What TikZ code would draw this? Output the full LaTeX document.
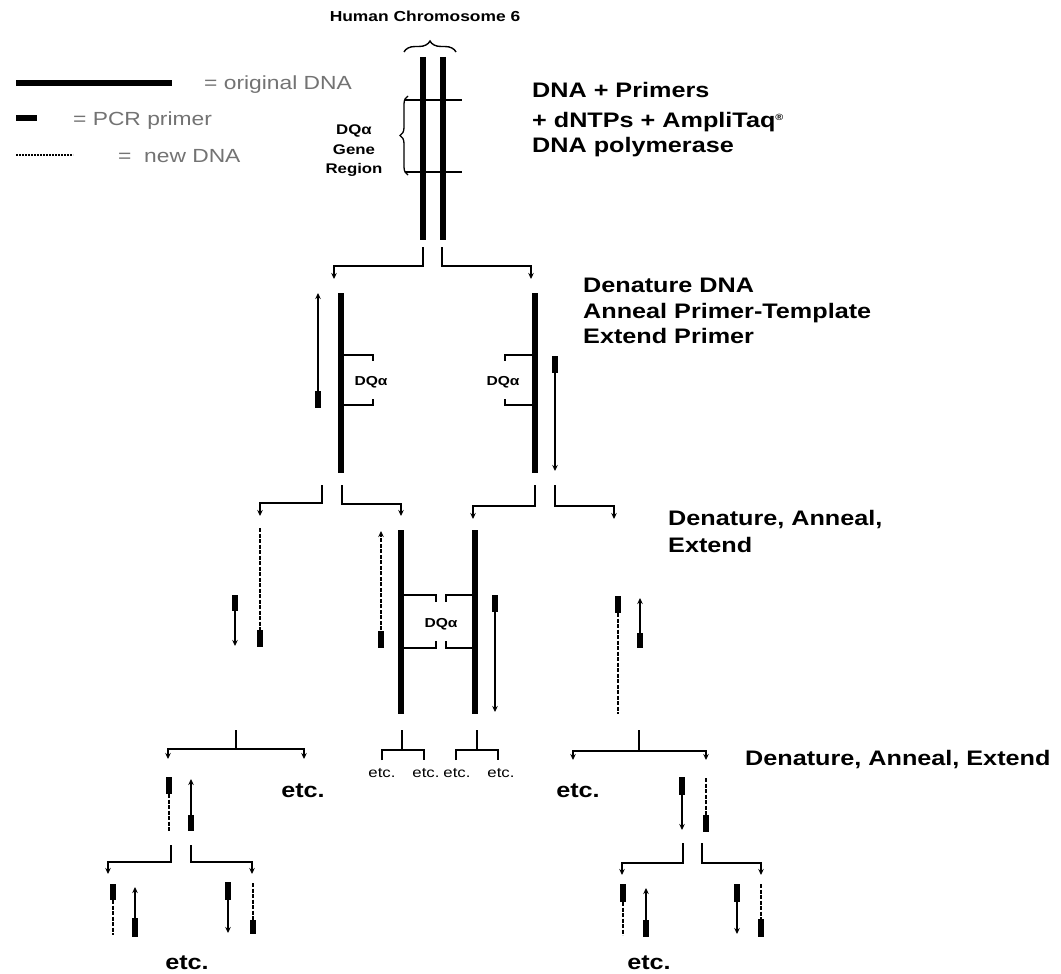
\documentclass[tikz,border=0pt]{standalone}
\usepackage{fontspec}
\setmainfont{Liberation Sans}[FakeStretch=1.2]
\usetikzlibrary{arrows.meta,decorations.pathreplacing}
\begin{document}
\begin{tikzpicture}[x=1pt,y=-1pt,
  orig/.style={line width=5.5pt},
  primer/.style={line width=6pt},
  newdna/.style={line width=1.2pt,dash pattern=on 4pt off 1.5pt},
  ext/.style={line width=1.1pt},
  conn/.style={line width=1.5pt},
  brk/.style={line width=1.6pt},
  arr/.style={-{Stealth[length=6pt,width=5.5pt]}},
  arrb/.style={{Stealth[length=6pt,width=5.5pt]}-{Stealth[length=6pt,width=5.5pt]}},
  lvl/.style={font=\fontsize{21}{25}\selectfont\bfseries,inner sep=0pt,anchor=base west},
  lab/.style={font=\fontsize{14}{16}\selectfont\bfseries,inner sep=0pt,anchor=base},
  dq/.style={font=\fontsize{13}{15}\selectfont\bfseries,inner sep=0pt},
  setc/.style={font=\fontsize{14}{16}\selectfont,inner sep=0pt,anchor=base},
  betc/.style={font=\fontsize{21}{25}\selectfont\bfseries,inner sep=0pt,anchor=base},
  leg/.style={font=\fontsize{19}{22}\selectfont,text=black!55,inner sep=0pt,anchor=base west}]
\useasboundingbox (0,0) rectangle (1061,974);
\fill[white] (0,0) rectangle (1061,974);

% ---------- legend ----------
\draw[orig] (16,83) -- (172,83);
\node[leg] (l1) at (204,90) {= original DNA};
\draw[primer] (16,118) -- (37,118);
\node[leg] (l2) at (73,125) {= PCR primer};
\draw[line width=1.1pt,dash pattern=on 2pt off 1pt] (16,155) -- (73,155);
\node[leg] (l3) at (118,162) {=\ \ new DNA};

% ---------- level 1 ----------
\node[lab,font=\fontsize{14.5}{16}\selectfont\bfseries] (hc) at (425,22) {Human Chromosome 6};
\draw[line width=1.4pt,decorate,decoration={brace,amplitude=11pt,aspect=0.5}] (404,52) -- (456,52);
\draw[orig] (423,57) -- (423,240);
\draw[orig] (443,57) -- (443,240);
\draw[brk] (405,100) -- (462,100);
\draw[brk] (405,172) -- (462,172);
\draw[line width=1.3pt,decorate,decoration={brace,amplitude=8pt}] (408,175) -- (408,96);
\node[lab] (g1) at (354,135) {DQα};
\node[lab] (g2) at (354,154) {Gene};
\node[lab] (g3) at (354,173) {Region};

\node[lvl] (t1a) at (532,98) {DNA + Primers};
\node[lvl] (t1b) at (532,127) {+ dNTPs + AmpliTaq{\fontsize{9}{9}\selectfont\raisebox{6pt}{®}}};
\node[lvl] (t1c) at (532,152) {DNA polymerase};

\draw[conn,arr] (423,247) -- (423,266) -- (334,266) -- (334,279);
\draw[conn,arr] (442,247) -- (442,266) -- (531,266) -- (531,279);

% ---------- level 2 ----------
\node[lvl] (t2a) at (583,292) {Denature DNA};
\node[lvl] (t2b) at (583,318) {Anneal Primer-Template};
\node[lvl] (t2c) at (583,343) {Extend Primer};

\draw[orig] (341,293) -- (341,473);
\draw[orig] (535,293) -- (535,473);
\draw[brk] (341,355) -- (373,355) -- (373,361);
\draw[brk] (341,405) -- (373,405) -- (373,399);
\draw[brk] (535,355) -- (505,355) -- (505,361);
\draw[brk] (535,405) -- (505,405) -- (505,399);
\node[dq] (d2a) at (371,382) {DQα};
\node[dq] (d2b) at (503,382) {DQα};
\draw[ext,arr] (318,392) -- (318,293);
\draw[primer] (318,391) -- (318,408);
\draw[primer] (555,356) -- (555,373);
\draw[ext,arr] (555,372) -- (555,471);

\draw[conn,arr] (322,485) -- (322,503) -- (260,503) -- (260,516);
\draw[conn,arr] (342,485) -- (342,504) -- (401,504) -- (401,516);
\draw[conn,arr] (535,485) -- (535,506) -- (473,506) -- (473,519);
\draw[conn,arr] (555,485) -- (555,506) -- (614,506) -- (614,519);

% ---------- level 3 ----------
\node[lvl] (t3a) at (668,525) {Denature, Anneal,};
\node[lvl] (t3b) at (668,552) {Extend};

\draw[newdna] (260,528) -- (260,630);
\draw[primer] (260,630) -- (260,647);
\draw[primer] (235,595) -- (235,611);
\draw[ext,arr] (235,610) -- (235,646);

\draw[orig] (401,530) -- (401,714);
\draw[orig] (475,530) -- (475,714);
\draw[newdna,arr] (381,630) -- (381,531);
\draw[primer] (381,631) -- (381,648);
\draw[brk] (401,595) -- (436,595) -- (436,602);
\draw[brk] (401,648) -- (436,648) -- (436,641);
\draw[brk] (475,595) -- (446,595) -- (446,602);
\draw[brk] (475,648) -- (446,648) -- (446,641);
\node[dq] (d3) at (441,624) {DQα};
\draw[primer] (495,595) -- (495,612);
\draw[ext,arr] (495,611) -- (495,712);

\draw[primer] (618,596) -- (618,613);
\draw[newdna] (618,613) -- (618,714);
\draw[ext,arr] (640,633) -- (640,598);
\draw[primer] (640,633) -- (640,648);

\draw[conn] (236,730) -- (236,749);
\draw[conn,arrb] (168,759) -- (168,749) -- (304,749) -- (304,759);
\draw[conn] (402,730) -- (402,750);
\draw[conn] (382,760) -- (382,750) -- (424,750) -- (424,760);
\draw[conn] (477,730) -- (477,750);
\draw[conn] (456,760) -- (456,750) -- (498,750) -- (498,760);
\draw[conn] (639,730) -- (639,751);
\draw[conn,arrb] (573,760) -- (573,751) -- (706,751) -- (706,760);

\node[setc] (e1) at (382,777) {etc.};
\node[setc] (e2) at (426,777) {etc.};
\node[setc] (e3) at (457,777) {etc.};
\node[setc] (e4) at (501,777) {etc.};
\node[betc] (e5) at (303,797) {etc.};
\node[betc] (e6) at (578,797) {etc.};

% ---------- level 4 ----------
\node[lvl] (t4) at (745,765) {Denature, Anneal, Extend};

\draw[primer] (169,777) -- (169,794);
\draw[newdna] (169,794) -- (169,831);
\draw[ext,arr] (191,815) -- (191,779);
\draw[primer] (191,815) -- (191,831);
\draw[conn,arr] (171,845) -- (171,862) -- (108,862) -- (108,874);
\draw[conn,arr] (191,845) -- (191,862) -- (252,862) -- (252,874);

\draw[primer] (682,777) -- (682,795);
\draw[ext,arr] (682,794) -- (682,830);
\draw[newdna] (706,778) -- (706,815);
\draw[primer] (706,815) -- (706,832);
\draw[conn,arr] (683,843) -- (683,863) -- (622,863) -- (622,875);
\draw[conn,arr] (702,843) -- (702,863) -- (761,863) -- (761,875);

% ---------- level 5 ----------
\draw[primer] (113,884) -- (113,900);
\draw[newdna] (113,900) -- (113,935);
\draw[ext,arr] (135,918) -- (135,887);
\draw[primer] (135,918) -- (135,937);
\draw[primer] (228,882) -- (228,900);
\draw[ext,arr] (228,899) -- (228,933);
\draw[newdna] (253,883) -- (253,920);
\draw[primer] (253,920) -- (253,934);

\draw[primer] (623,884) -- (623,902);
\draw[newdna] (623,902) -- (623,935);
\draw[ext,arr] (646,920) -- (646,888);
\draw[primer] (646,920) -- (646,937);
\draw[primer] (737,884) -- (737,902);
\draw[ext,arr] (737,901) -- (737,934);
\draw[newdna] (761,884) -- (761,919);
\draw[primer] (761,919) -- (761,937);

\node[betc] (e7) at (187,969) {etc.};
\node[betc] (e8) at (649,969) {etc.};
\end{tikzpicture}
\end{document}
